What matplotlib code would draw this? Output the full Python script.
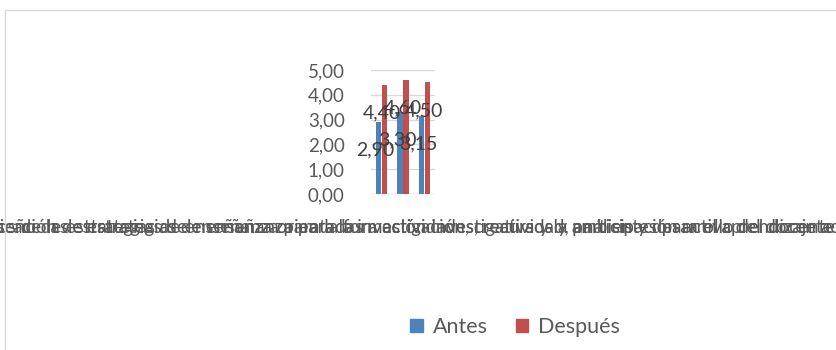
import matplotlib
matplotlib.use("Agg")
import matplotlib.pyplot as plt
from matplotlib.patches import Patch, Rectangle

# Data
categories = [
    "Contextos de las estrategias de enseñanza para la formación investigativa y la participación activa del docente",
    "Aplicación de estrategias de enseñanza para la investigación, creatividad, análisis y desarrollo del docente",
    "Diseño de estrategias de enseñanza orientadas a actividades, recursos y ambientes para el aprendizaje activo",
]
antes = [2.90, 3.30, 3.15]
despues = [4.40, 4.60, 4.50]
series_names = ["Antes", "Después"]
yticks = [0, 1, 2, 3, 4, 5]

BLUE = "#4F81BD"
RED = "#C0504D"
GREY_TXT = "#595959"
GRID = "#D9D9D9"

plt.rcParams["font.family"] = ["Lato", "DejaVu Sans"]

fig = plt.figure(figsize=(8.36, 3.5), dpi=100)

# chart frame
fig.patches.append(Rectangle((5 / 836, -0.1), 1.2, (340 / 350) + 0.1,
                             transform=fig.transFigure, fill=False,
                             edgecolor="#D9D9D9", linewidth=1.0, clip_on=False))

ax = fig.add_axes([371 / 836, 156 / 350, 64 / 836, 124 / 350])

x = list(range(len(categories)))
w = 0.26
off = 0.14
bx = [i - off for i in x]
rx = [i + off for i in x]
ax.bar(bx, antes, width=w, color=BLUE, zorder=3)
ax.bar(rx, despues, width=w, color=RED, zorder=3)

ax.set_xlim(-0.5, 2.5)
ax.set_ylim(0, 5)
ax.set_yticks(yticks)
ax.set_yticklabels([f"{v:.2f}".replace(".", ",") for v in yticks],
                   fontsize=13.5, color=GREY_TXT)
ax.tick_params(axis="y", length=0, pad=19)
ax.grid(axis="y", color=GRID, linewidth=1.0, zorder=0)
for s in ax.spines.values():
    s.set_visible(False)
ax.axhline(0, color=GRID, linewidth=1.0, zorder=2)

ax.set_xticks(x)
ax.set_xticklabels(categories, fontsize=13.5, color=GREY_TXT)
ax.tick_params(axis="x", length=0, pad=18)

# value labels
for xs, vals in ((bx, antes), (rx, despues)):
    for xi, v in zip(xs, vals):
        ax.annotate(f"{v:.2f}".replace(".", ","), (xi, v),
                    xytext=(-3, -28), textcoords="offset pixels",
                    ha="center", va="center", fontsize=14,
                    color="#404040", zorder=5, annotation_clip=False)

handles = [Patch(color=BLUE), Patch(color=RED)]
fig.legend(handles, series_names, loc="center", bbox_to_anchor=(515 / 836, 23 / 350),
           ncol=2, frameon=False, fontsize=15.5, handlelength=0.6, handleheight=0.6,
           handletextpad=0.45, columnspacing=1.3, labelcolor=GREY_TXT)

fig.savefig("out.png", dpi=100)
